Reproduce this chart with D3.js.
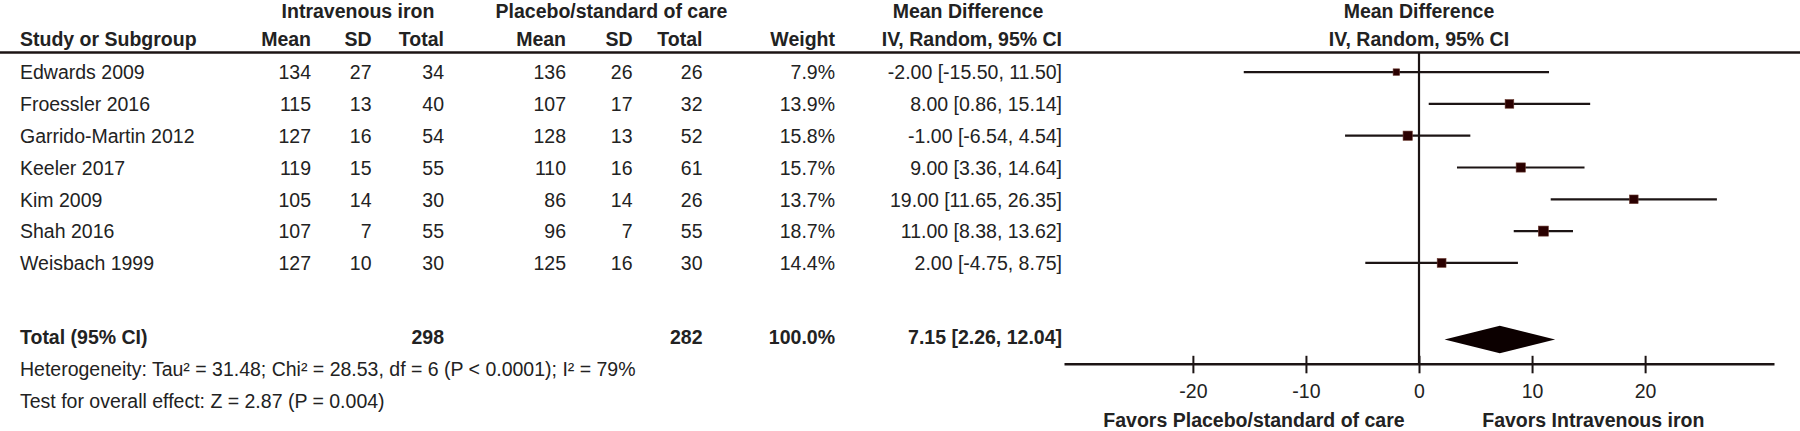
<!DOCTYPE html>
<html>
<head>
<meta charset="utf-8">
<script src="https://cdn.jsdelivr.net/npm/d3@7"></script>
<style>
  html, body { margin: 0; padding: 0; background: #fff; }
  svg { display: block; }
  text { font-family: "Liberation Sans", Arial, sans-serif; font-size: 19.5px; fill: #222; }
  .b { font-weight: bold; }
</style>
</head>
<body>
<script>
// ---------- data ----------
const studies  = ["Edwards 2009", "Froessler 2016", "Garrido-Martin 2012", "Keeler 2017", "Kim 2009", "Shah 2016", "Weisbach 1999"];
const ivMean   = [134, 115, 127, 119, 105, 107, 127];
const ivSD     = [27, 13, 16, 15, 14, 7, 10];
const ivTotal  = [34, 40, 54, 55, 30, 55, 30];
const plMean   = [136, 107, 128, 110, 86, 96, 125];
const plSD     = [26, 17, 13, 16, 14, 7, 16];
const plTotal  = [26, 32, 52, 61, 26, 55, 30];
const weights  = [7.9, 13.9, 15.8, 15.7, 13.7, 18.7, 14.4];
const md       = [-2.00, 8.00, -1.00, 9.00, 19.00, 11.00, 2.00];
const ciLow    = [-15.50, 0.86, -6.54, 3.36, 11.65, 8.38, -4.75];
const ciHigh   = [11.50, 15.14, 4.54, 14.64, 26.35, 13.62, 8.75];
const totalIV = 298, totalPl = 282, totalWeight = 100.0;
const pooledMD = 7.15, pooledLow = 2.26, pooledHigh = 12.04;
const xTicks = [-20, -10, 0, 10, 20];
const heterogeneityText = "Heterogeneity: Tau\u00B2 = 31.48; Chi\u00B2 = 28.53, df = 6 (P < 0.0001); I\u00B2 = 79%";
const overallText = "Test for overall effect: Z = 2.87 (P = 0.004)";
const groupLeft = "Intravenous iron", groupRight = "Placebo/standard of care";
const favorsLeft = "Favors Placebo/standard of care", favorsRight = "Favors Intravenous iron";

// ---------- layout ----------
const W = 1800, H = 431;
const svg = d3.select("body").append("svg").attr("width", W).attr("height", H);

const x = d3.scaleLinear().domain([-31.4, 31.4]).range([1064, 1774]);
const rowY = d3.scaleLinear().domain([0, studies.length - 1]).range([79.3, 270.1]); // text baselines
const markSize = d3.scaleSqrt().domain([0, 20]).range([0, 10.4]);

const col = { study: 20, ivMean: 311, ivSD: 371.5, ivTotal: 444, plMean: 566, plSD: 632.5, plTotal: 702.5, weight: 835, ci: 1062 };
const lineColor = "#1c1414";

// hyphen-minus formatting like the reference
const f2 = v => v.toFixed(2);
const f1 = v => v.toFixed(1);

// headers
const hdr1 = 17.8, hdr2 = 46;
function t(xp, yp, str, anchor, bold) {
  return svg.append("text").attr("x", xp).attr("y", yp).attr("text-anchor", anchor || "start")
    .attr("class", bold ? "b" : null).text(str);
}
t(358, hdr1, groupLeft, "middle", true);
t(611.5, hdr1, groupRight, "middle", true);
t(968, hdr1, "Mean Difference", "middle", true);
t(x(0), hdr1, "Mean Difference", "middle", true);

t(col.study, hdr2, "Study or Subgroup", "start", true);
t(col.ivMean, hdr2, "Mean", "end", true);
t(col.ivSD, hdr2, "SD", "end", true);
t(col.ivTotal, hdr2, "Total", "end", true);
t(col.plMean, hdr2, "Mean", "end", true);
t(col.plSD, hdr2, "SD", "end", true);
t(col.plTotal, hdr2, "Total", "end", true);
t(col.weight, hdr2, "Weight", "end", true);
t(col.ci, hdr2, "IV, Random, 95% CI", "end", true);
t(x(0), hdr2, "IV, Random, 95% CI", "middle", true);

// header rule
svg.append("line").attr("x1", 0).attr("x2", W).attr("y1", 52.5).attr("y2", 52.5)
  .attr("stroke", lineColor).attr("stroke-width", 2.5);

// zero line
const axisY = 363.8;
svg.append("line").attr("x1", x(0)).attr("x2", x(0)).attr("y1", 53).attr("y2", axisY)
  .attr("stroke", lineColor).attr("stroke-width", 2.2);

// study rows
studies.forEach((s, i) => {
  const y = rowY(i);
  t(col.study, y, s);
  t(col.ivMean, y, ivMean[i], "end");
  t(col.ivSD, y, ivSD[i], "end");
  t(col.ivTotal, y, ivTotal[i], "end");
  t(col.plMean, y, plMean[i], "end");
  t(col.plSD, y, plSD[i], "end");
  t(col.plTotal, y, plTotal[i], "end");
  t(col.weight, y, f1(weights[i]) + "%", "end");
  t(col.ci, y, `${f2(md[i])} [${f2(ciLow[i])}, ${f2(ciHigh[i])}]`, "end");

  const cy = y - 7.2;
  svg.append("line").attr("x1", x(ciLow[i])).attr("x2", x(ciHigh[i]))
    .attr("y1", cy).attr("y2", cy).attr("stroke", lineColor).attr("stroke-width", 2.2);
  const sz = markSize(weights[i]);
  svg.append("rect").attr("x", x(md[i]) - sz / 2).attr("y", cy - sz / 2)
    .attr("width", sz).attr("height", sz).attr("fill", "#2a0000")
    .attr("stroke", "#6a3a30").attr("stroke-width", 0.6);
});

// total row
const totY = 344.3;
t(col.study, totY, "Total (95% CI)", "start", true);
t(col.ivTotal, totY, totalIV, "end", true);
t(col.plTotal, totY, totalPl, "end", true);
t(col.weight, totY, f1(totalWeight) + "%", "end", true);
t(col.ci, totY, `${f2(pooledMD)} [${f2(pooledLow)}, ${f2(pooledHigh)}]`, "end", true);
t(col.study, 376, heterogeneityText);
t(col.study, 408.3, overallText);

// diamond
const dY = 339.5, dH = 13.8;
svg.append("path")
  .attr("d", `M${x(pooledLow)},${dY} L${x(pooledMD)},${dY - dH} L${x(pooledHigh)},${dY} L${x(pooledMD)},${dY + dH} Z`)
  .attr("fill", "#0c0000");

// axis
const axis = d3.axisBottom(x).tickValues(xTicks).tickSizeOuter(0).tickSizeInner(9).tickFormat(d => String(d));
const ag = svg.append("g").attr("transform", `translate(0,${axisY})`).call(axis);
ag.select(".domain").attr("stroke", lineColor).attr("stroke-width", 2.6);
ag.selectAll(".tick line").attr("stroke", lineColor).attr("stroke-width", 2).attr("y1", -8).attr("y2", 9.5);
ag.selectAll(".tick text").attr("y", 34.5).attr("dy", null)
  .style("font-family", "\"Liberation Sans\", Arial, sans-serif").style("font-size", "19.5px").attr("fill", "#222");
ag.attr("font-family", null).attr("font-size", null);

// favors labels
t(1254, 426.7, favorsLeft, "middle", true);
t(1593.3, 426.7, favorsRight, "middle", true);
</script>
</body>
</html>
